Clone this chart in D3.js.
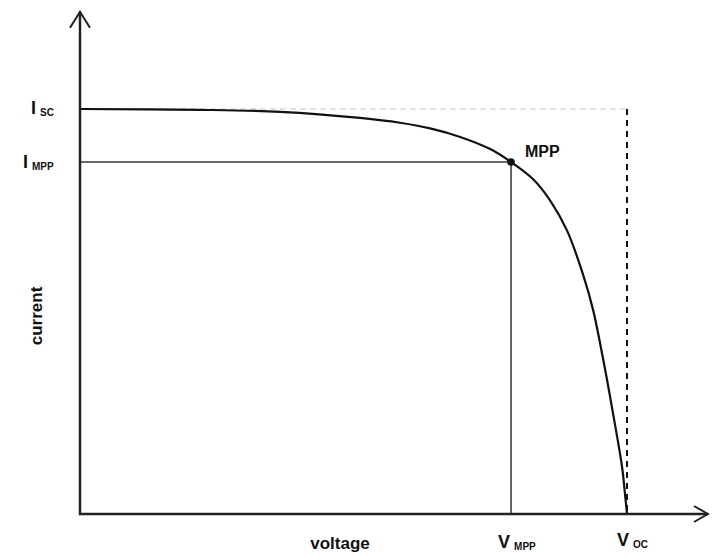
<!DOCTYPE html>
<html>
<head>
<meta charset="utf-8">
<script src="https://cdn.jsdelivr.net/npm/d3@7"></script>
<style>
  body { margin: 0; background: #fff; }
  text { font-family: "Liberation Sans", Arial, sans-serif; fill: #111; }
</style>
</head>
<body>
<div id="chart"></div>
<script>
// I-V curve, normalised: voltage / Voc, current / Isc
const voltage = [0, 0.219, 0.366, 0.512, 0.585, 0.640, 0.695, 0.750, 0.788, 0.828, 0.859, 0.890, 0.920, 0.938, 0.956, 0.974, 0.991, 0.996, 1.0];
const current = [1.0, 0.998, 0.993, 0.978, 0.966, 0.952, 0.931, 0.901, 0.869, 0.827, 0.775, 0.701, 0.590, 0.504, 0.385, 0.252, 0.116, 0.054, 0];
const vmpp = 0.788, impp = 0.869;
const voc = 1.0, isc = 1.0;

window.onload = function () {
  const width = 712;
  const height = 557;

  const svg = d3.select("#chart")
    .append("svg")
    .attr("width", width)
    .attr("height", height);

  const xScale = d3.scaleLinear().domain([0, 1]).range([80, 627]);
  const yScale = d3.scaleLinear().domain([0, 1]).range([514, 109]);
  const xMax = 1.148, yMax = 1.24;

  // Isc reference line (light, dashed) and Voc dashed line
  svg.append("line")
    .attr("x1", xScale(0)).attr("x2", xScale(voc))
    .attr("y1", yScale(isc)).attr("y2", yScale(isc))
    .attr("stroke", "#c8c8c8")
    .attr("stroke-width", 1.2)
    .attr("stroke-dasharray", "6,4");

  svg.append("line")
    .attr("x1", xScale(voc)).attr("x2", xScale(voc))
    .attr("y1", yScale(isc)).attr("y2", yScale(0))
    .attr("stroke", "#111")
    .attr("stroke-width", 2)
    .attr("stroke-dasharray", "6,5");

  // MPP guide lines
  svg.append("line")
    .attr("x1", xScale(0)).attr("x2", xScale(vmpp))
    .attr("y1", yScale(impp)).attr("y2", yScale(impp))
    .attr("stroke", "#333").attr("stroke-width", 1.5);
  svg.append("line")
    .attr("x1", xScale(vmpp)).attr("x2", xScale(vmpp))
    .attr("y1", yScale(impp)).attr("y2", yScale(0))
    .attr("stroke", "#333").attr("stroke-width", 1.5);

  // curve
  const pts = voltage.map((v, i) => [v, current[i]]);
  const line = d3.line()
    .x(d => xScale(d[0]))
    .y(d => yScale(d[1]))
    .curve(d3.curveCatmullRom.alpha(0.5));
  svg.append("path")
    .datum(pts)
    .attr("d", line)
    .attr("fill", "none")
    .attr("stroke", "#111")
    .attr("stroke-width", 2.2);

  svg.append("circle")
    .attr("cx", xScale(vmpp)).attr("cy", yScale(impp))
    .attr("r", 3.8).attr("fill", "#111");

  svg.append("text")
    .attr("x", xScale(vmpp) + 14).attr("y", yScale(impp) - 5)
    .attr("font-size", 16).attr("font-weight", "bold")
    .text("MPP");

  // axes with open arrowheads
  const axisColor = "#222";
  svg.append("line")
    .attr("x1", xScale(0)).attr("x2", xScale(0))
    .attr("y1", yScale(0) + 1).attr("y2", yScale(yMax))
    .attr("stroke", axisColor).attr("stroke-width", 2.5);
  svg.append("line")
    .attr("x1", xScale(0) - 1).attr("x2", xScale(xMax))
    .attr("y1", yScale(0)).attr("y2", yScale(0))
    .attr("stroke", axisColor).attr("stroke-width", 2.5);

  const ax = xScale(0), ay = yScale(yMax);
  svg.append("path")
    .attr("d", `M${ax - 10},${ay + 16} L${ax},${ay} L${ax + 10},${ay + 16}`)
    .attr("fill", "none").attr("stroke", axisColor).attr("stroke-width", 2);
  const bx = xScale(xMax), by = yScale(0);
  svg.append("path")
    .attr("d", `M${bx - 14},${by - 8} L${bx},${by} L${bx - 14},${by + 8}`)
    .attr("fill", "none").attr("stroke", axisColor).attr("stroke-width", 2);

  // labels with subscripts
  function subLabel(x, y, main, sub) {
    const t = svg.append("text")
      .attr("x", x).attr("y", y)
      .attr("font-weight", "bold");
    t.append("tspan").attr("font-size", 18).text(main);
    t.append("tspan").attr("font-size", 10).attr("dx", 4).attr("dy", 2).text(sub);
  }
  subLabel(31, yScale(isc) + 5, "I", "SC");
  subLabel(23, yScale(impp) + 6, "I", "MPP");
  subLabel(xScale(vmpp) - 13, 548, "V", "MPP");
  subLabel(xScale(voc) - 10, 546, "V", "OC");

  svg.append("text")
    .attr("x", 340).attr("y", 549)
    .attr("text-anchor", "middle")
    .attr("font-size", 17).attr("font-weight", "bold")
    .text("voltage");

  svg.append("text")
    .attr("transform", "translate(42,316) rotate(-90)")
    .attr("text-anchor", "middle")
    .attr("font-size", 17).attr("font-weight", "bold")
    .text("current");
};
</script>
</body>
</html>
